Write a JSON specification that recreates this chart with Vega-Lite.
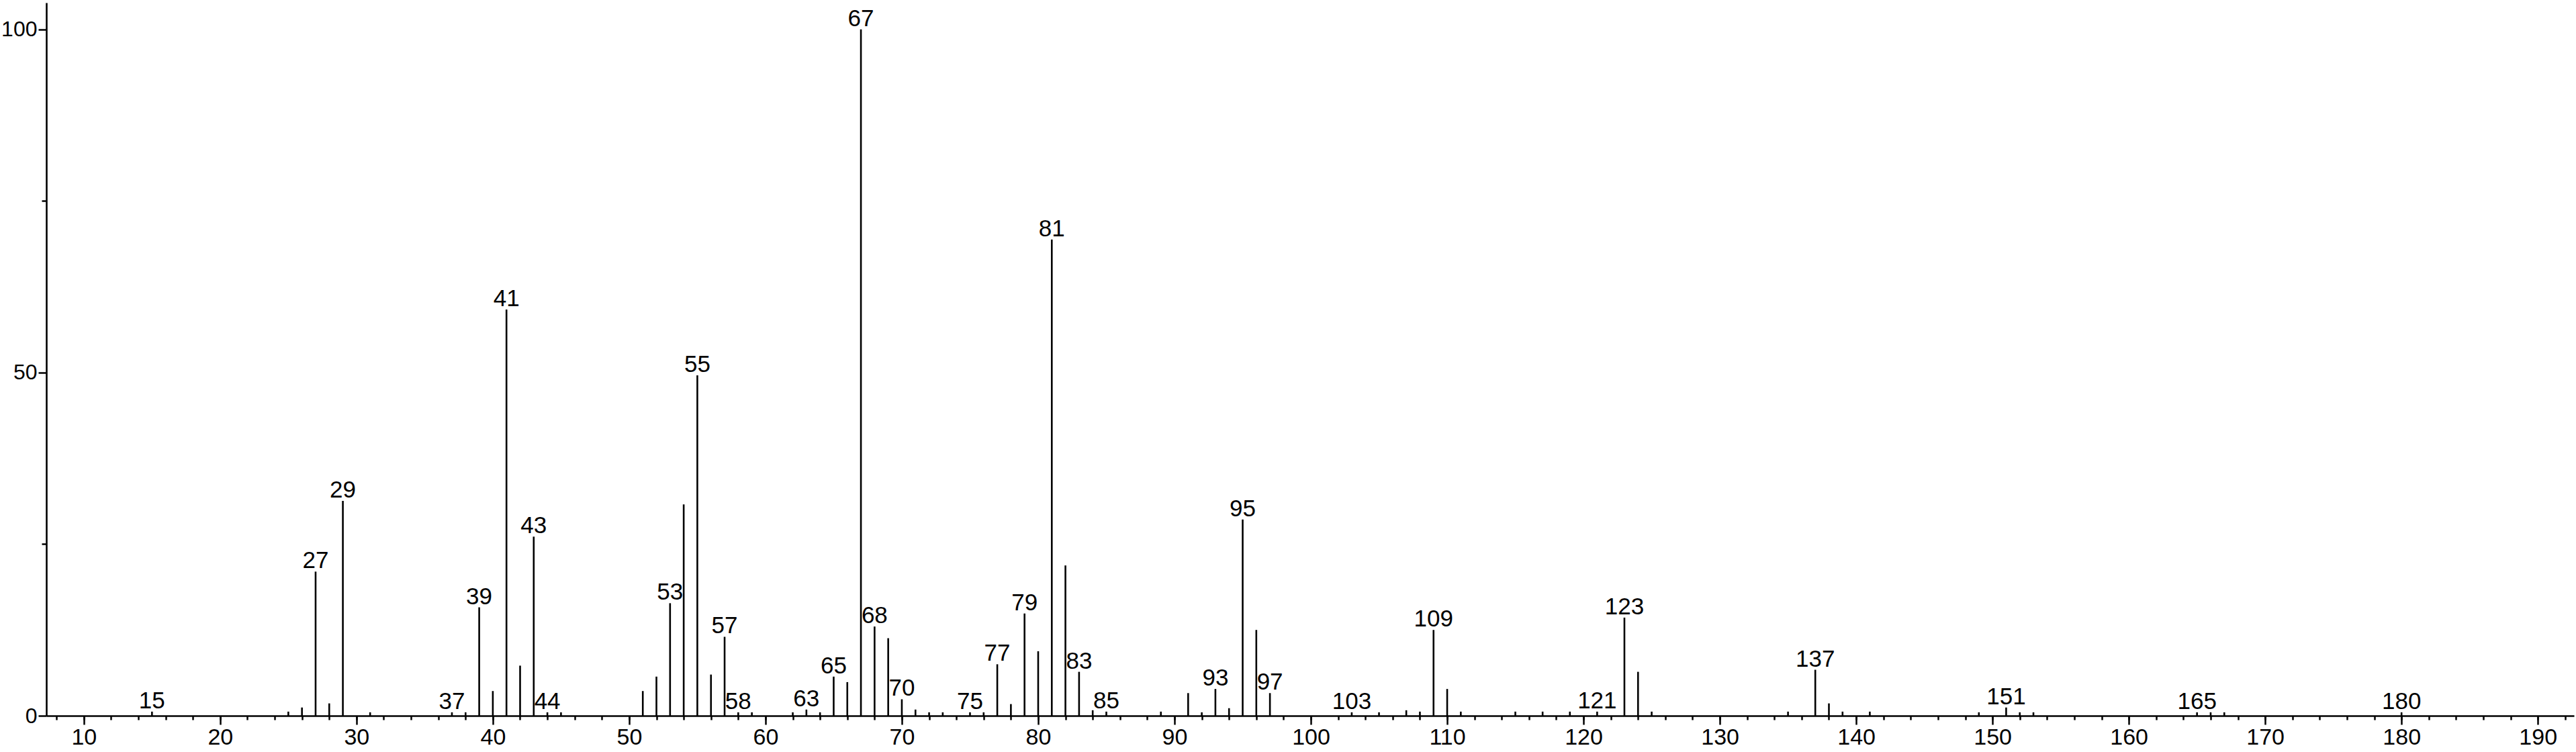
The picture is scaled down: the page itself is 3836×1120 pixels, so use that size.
{
  "$schema": "https://vega.github.io/schema/vega-lite/v6.json",
  "width": 3764,
  "height": 1062,
  "autosize": {"type": "none"},
  "padding": {"left": 69, "top": 4, "right": 3, "bottom": 54},
  "background": "white",
  "config": {
    "view": {"stroke": null},
    "axis": {
      "grid": false,
      "domainColor": "black",
      "domainWidth": 2.6,
      "tickColor": "black",
      "tickWidth": 2.5,
      "labelColor": "black",
      "labelFont": "Liberation Sans",
      "labelFontSize": 34,
      "title": null
    }
  },
  "data": {
    "values": [
      {"mz": 15, "intensity": 0.6, "label": "15"},
      {"mz": 25, "intensity": 0.6, "label": ""},
      {"mz": 26, "intensity": 1.2, "label": ""},
      {"mz": 27, "intensity": 21.0, "label": "27"},
      {"mz": 28, "intensity": 1.8, "label": ""},
      {"mz": 29, "intensity": 31.3, "label": "29"},
      {"mz": 31, "intensity": 0.5, "label": ""},
      {"mz": 37, "intensity": 0.5, "label": "37"},
      {"mz": 38, "intensity": 0.5, "label": ""},
      {"mz": 39, "intensity": 15.8, "label": "39"},
      {"mz": 40, "intensity": 3.6, "label": ""},
      {"mz": 41, "intensity": 59.2, "label": "41"},
      {"mz": 42, "intensity": 7.3, "label": ""},
      {"mz": 43, "intensity": 26.1, "label": "43"},
      {"mz": 44, "intensity": 0.5, "label": "44"},
      {"mz": 45, "intensity": 0.5, "label": ""},
      {"mz": 51, "intensity": 3.6, "label": ""},
      {"mz": 52, "intensity": 5.7, "label": ""},
      {"mz": 53, "intensity": 16.4, "label": "53"},
      {"mz": 54, "intensity": 30.8, "label": ""},
      {"mz": 55, "intensity": 49.6, "label": "55"},
      {"mz": 56, "intensity": 6.0, "label": ""},
      {"mz": 57, "intensity": 11.5, "label": "57"},
      {"mz": 58, "intensity": 0.5, "label": "58"},
      {"mz": 59, "intensity": 0.5, "label": ""},
      {"mz": 62, "intensity": 0.5, "label": ""},
      {"mz": 63, "intensity": 0.9, "label": "63"},
      {"mz": 64, "intensity": 0.5, "label": ""},
      {"mz": 65, "intensity": 5.7, "label": "65"},
      {"mz": 66, "intensity": 4.9, "label": ""},
      {"mz": 67, "intensity": 100, "label": "67"},
      {"mz": 68, "intensity": 13.0, "label": "68"},
      {"mz": 69, "intensity": 11.3, "label": ""},
      {"mz": 70, "intensity": 2.4, "label": "70"},
      {"mz": 71, "intensity": 0.9, "label": ""},
      {"mz": 72, "intensity": 0.5, "label": ""},
      {"mz": 73, "intensity": 0.5, "label": ""},
      {"mz": 75, "intensity": 0.5, "label": "75"},
      {"mz": 76, "intensity": 0.5, "label": ""},
      {"mz": 77, "intensity": 7.5, "label": "77"},
      {"mz": 78, "intensity": 1.7, "label": ""},
      {"mz": 79, "intensity": 14.9, "label": "79"},
      {"mz": 80, "intensity": 9.4, "label": ""},
      {"mz": 81, "intensity": 69.4, "label": "81"},
      {"mz": 82, "intensity": 21.9, "label": ""},
      {"mz": 83, "intensity": 6.4, "label": "83"},
      {"mz": 84, "intensity": 0.8, "label": ""},
      {"mz": 85, "intensity": 0.6, "label": "85"},
      {"mz": 89, "intensity": 0.6, "label": ""},
      {"mz": 91, "intensity": 3.3, "label": ""},
      {"mz": 92, "intensity": 0.5, "label": ""},
      {"mz": 93, "intensity": 3.9, "label": "93"},
      {"mz": 94, "intensity": 1.1, "label": ""},
      {"mz": 95, "intensity": 28.6, "label": "95"},
      {"mz": 96, "intensity": 12.5, "label": ""},
      {"mz": 97, "intensity": 3.3, "label": "97"},
      {"mz": 103, "intensity": 0.5, "label": "103"},
      {"mz": 105, "intensity": 0.5, "label": ""},
      {"mz": 107, "intensity": 0.8, "label": ""},
      {"mz": 108, "intensity": 0.6, "label": ""},
      {"mz": 109, "intensity": 12.5, "label": "109"},
      {"mz": 110, "intensity": 3.9, "label": ""},
      {"mz": 111, "intensity": 0.6, "label": ""},
      {"mz": 115, "intensity": 0.6, "label": ""},
      {"mz": 117, "intensity": 0.6, "label": ""},
      {"mz": 119, "intensity": 0.6, "label": ""},
      {"mz": 121, "intensity": 0.6, "label": "121"},
      {"mz": 123, "intensity": 14.3, "label": "123"},
      {"mz": 124, "intensity": 6.4, "label": ""},
      {"mz": 125, "intensity": 0.6, "label": ""},
      {"mz": 135, "intensity": 0.6, "label": ""},
      {"mz": 137, "intensity": 6.7, "label": "137"},
      {"mz": 138, "intensity": 1.8, "label": ""},
      {"mz": 139, "intensity": 0.6, "label": ""},
      {"mz": 141, "intensity": 0.6, "label": ""},
      {"mz": 149, "intensity": 0.5, "label": ""},
      {"mz": 151, "intensity": 1.2, "label": "151"},
      {"mz": 152, "intensity": 0.5, "label": ""},
      {"mz": 153, "intensity": 0.5, "label": ""},
      {"mz": 165, "intensity": 0.5, "label": "165"},
      {"mz": 166, "intensity": 0.5, "label": ""},
      {"mz": 167, "intensity": 0.5, "label": ""},
      {"mz": 180, "intensity": 0.5, "label": "180"}
    ]
  },
  "layer": [
    {
      "mark": {"type": "rule", "color": "black", "strokeWidth": 2.6},
      "encoding": {
        "x": {
          "field": "mz", "type": "quantitative",
          "scale": {"domain": [7.25, 192.65], "nice": false, "zero": false},
          "axis": {
            "orient": "bottom",
            "values": [10, 20, 30, 40, 50, 60, 70, 80, 90, 100, 110, 120, 130, 140, 150, 160, 170, 180, 190],
            "tickSize": 13,
            "labelPadding": 2,
            "labelFlush": false,
            "labelOverlap": false
          }
        },
        "y": {
          "field": "intensity", "type": "quantitative",
          "scale": {"domain": [0, 103.9], "nice": false},
          "axis": {
            "orient": "left",
            "values": [0, 50, 100],
            "tickSize": 12,
            "labelPadding": 2,
            "labelFontSize": 32,
            "labelFlush": false,
            "labelOverlap": false
          }
        },
        "y2": {"datum": 0}
      }
    },
    {
      "transform": [{"filter": "datum.label != ''"}],
      "mark": {
        "type": "text",
        "color": "black",
        "font": "Liberation Sans",
        "fontSize": 35,
        "align": "center",
        "baseline": "alphabetic",
        "dy": -5
      },
      "encoding": {
        "x": {
          "field": "mz", "type": "quantitative",
          "axis": {
            "orient": "bottom",
            "values": [8, 10, 12, 14, 16, 18, 20, 22, 24, 26, 28, 30, 32, 34, 36, 38, 40, 42, 44, 46, 48, 50, 52, 54, 56, 58, 60, 62, 64, 66, 68, 70, 72, 74, 76, 78, 80, 82, 84, 86, 88, 90, 92, 94, 96, 98, 100, 102, 104, 106, 108, 110, 112, 114, 116, 118, 120, 122, 124, 126, 128, 130, 132, 134, 136, 138, 140, 142, 144, 146, 148, 150, 152, 154, 156, 158, 160, 162, 164, 166, 168, 170, 172, 174, 176, 178, 180, 182, 184, 186, 188, 190, 192],
            "tickSize": 6,
            "labels": false,
            "domain": false
          }
        },
        "y": {
          "field": "intensity", "type": "quantitative",
          "axis": {
            "orient": "left",
            "values": [25, 75],
            "tickSize": 7,
            "labels": false,
            "domain": false
          }
        },
        "text": {"field": "label", "type": "nominal"}
      }
    }
  ],
  "resolve": {"axis": {"x": "independent", "y": "independent"}}
}
